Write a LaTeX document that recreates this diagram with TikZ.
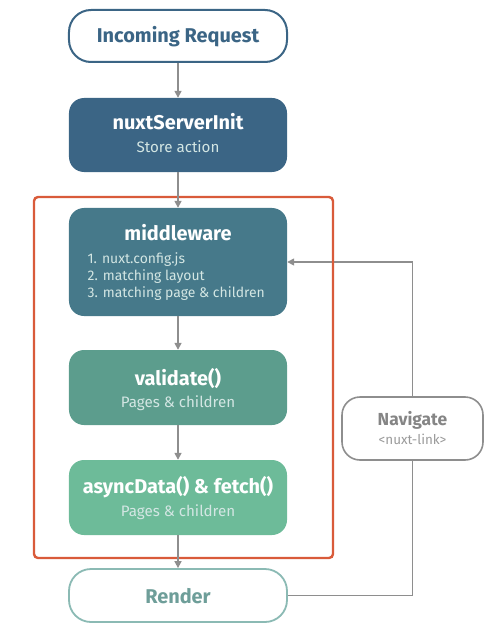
\documentclass[tikz,border=0pt]{standalone}
\usepackage{fontspec}
\setmainfont{Fira Sans}
\usetikzlibrary{arrows.meta}
\definecolor{cblue}{HTML}{3B6585}
\definecolor{cmid}{HTML}{46798A}
\definecolor{cval}{HTML}{5C9D8D}
\definecolor{casync}{HTML}{6DBB99}
\definecolor{crender}{HTML}{8BBAB4}
\definecolor{crendertext}{HTML}{6E9E99}
\definecolor{cred}{HTML}{D95B3A}
\definecolor{cgray}{HTML}{8E8E8E}
\definecolor{cnavtext}{HTML}{858585}
\definecolor{cnavsub}{HTML}{9A9A9A}
\definecolor{csub}{HTML}{D3E6E3}
\begin{document}
\begin{tikzpicture}[x=1bp,y=-1bp,
  box/.style={rounded corners=15bp, minimum width=218bp, inner sep=0pt},
  ttl/.style={anchor=base, inner sep=0pt, text=white, font=\fontsize{20}{24}\selectfont\bfseries},
  sbt/.style={anchor=base, inner sep=0pt, text=csub, font=\fontsize{15.2}{18}\selectfont},
  conn/.style={draw=cgray, line width=1.6bp, -{Triangle[length=7bp,width=7bp]}},
  plain/.style={draw=cgray, line width=1.6bp}]
\useasboundingbox (0,0) rectangle (491,632);
% boxes
\node[box, draw=cblue, line width=2bp, fill=white, minimum height=52bp, rounded corners=22bp] (inc) at (178,36) {};
\node[box, fill=cblue, minimum height=74bp] (nsi) at (178,135) {};
\node[box, fill=cmid, minimum height=108bp] (mw) at (178,262) {};
\node[box, fill=cval, minimum height=75bp] (val) at (178,387.5) {};
\node[box, fill=casync, minimum height=75bp] (asy) at (178,497.5) {};
\node[box, draw=crender, line width=1.8bp, fill=white, minimum height=53bp, rounded corners=22bp] (ren) at (178,595.5) {};
\node[draw=cgray, line width=1.6bp, rounded corners=18bp, minimum width=141bp, minimum height=63bp, inner sep=0pt, fill=white] (nav) at (412.5,428.5) {};
% texts
\node[ttl, text=cblue] (inct) at (178,43) {Incoming Request};
\node[ttl] (nsit) at (178,130) {nuxtServerInit};
\node[sbt] (nsis) at (178,153) {Store action};
\node[ttl] (mwt) at (178,240) {middleware};
\node[sbt, anchor=base west, font=\fontsize{14}{17}\selectfont] (mwl1) at (87.5,263) {1. nuxt.config.js};
\node[sbt, anchor=base west, font=\fontsize{14}{17}\selectfont] (mwl2) at (87.5,280) {2. matching layout};
\node[sbt, anchor=base west, font=\fontsize{14}{17}\selectfont] (mwl3) at (87.5,297) {3. matching page \& children};
\node[ttl] (valt) at (178,385) {validate()};
\node[sbt] (vals) at (178,407) {Pages \& children};
\node[ttl] (asyt) at (178,493) {asyncData() \& fetch()};
\node[sbt] (asys) at (178,516) {Pages \& children};
\node[ttl, text=crendertext] (rent) at (178,603) {Render};
\node[ttl, text=cnavtext, font=\fontsize{17.5}{20}\selectfont\bfseries] (navt) at (412.5,425) {Navigate};
\node[sbt, text=cnavsub, font=\fontsize{13.5}{16}\selectfont] (navs) at (412.5,444) {<nuxt-link>};
% connectors
\draw[plain] (ren.east) -| (nav.south);
\draw[conn] (nav.north) |- (mw.east);
\draw[cred, line width=2.4bp, rounded corners=4bp] (34,197) rectangle (333,558);
\draw[conn] (inc) -- (nsi);
\draw[conn] (nsi) -- (mw);
\draw[conn] (mw) -- (val);
\draw[conn] (val) -- (asy);
\draw[conn] (asy) -- (ren);
\end{tikzpicture}
\end{document}
